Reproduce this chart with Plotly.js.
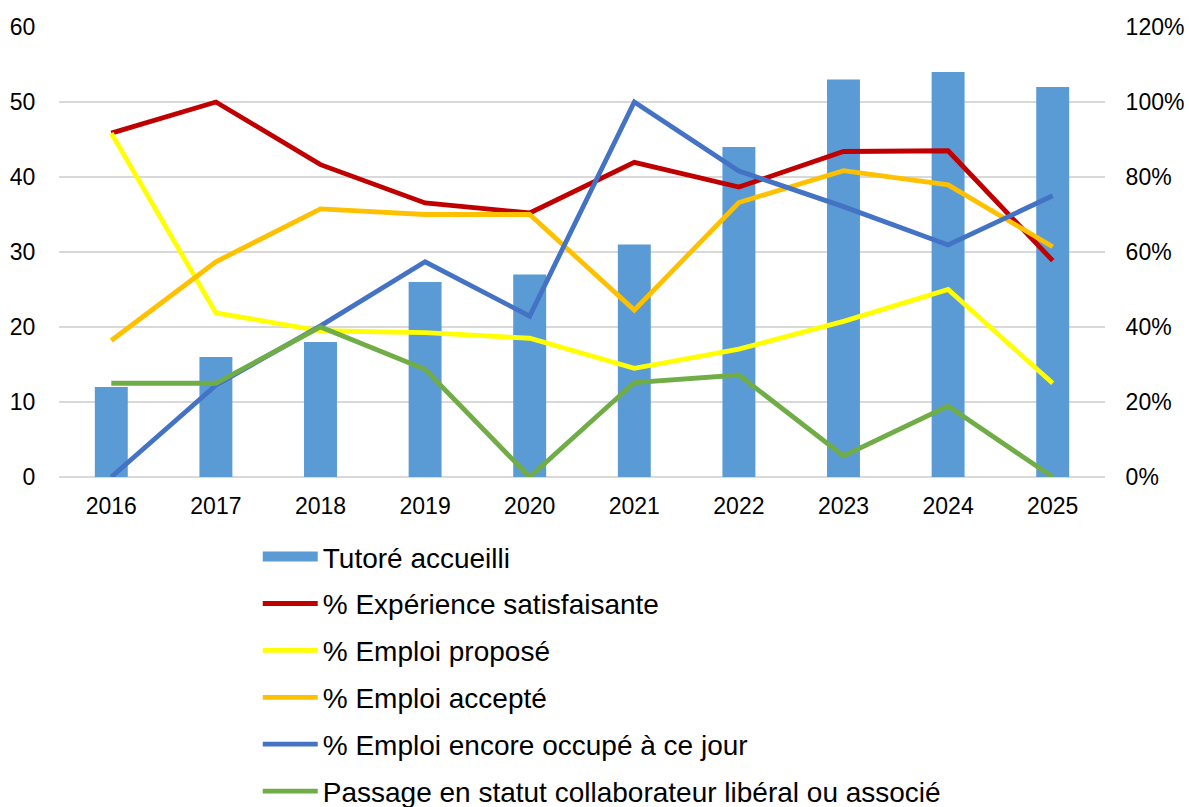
<!DOCTYPE html>
<html>
<head>
<meta charset="utf-8">
<script src="https://cdn.plot.ly/plotly-3.0.1.min.js"></script>
<style>html,body{margin:0;padding:0;background:#fff;}#chart{width:1189px;height:807px;}</style>
</head>
<body>
<div id="chart"></div>
<script>
const years = ['2016','2017','2018','2019','2020','2021','2022','2023','2024','2025'];
const tutores = [12,16,18,26,27,31,44,53,54,52];
const satisfaisante = [0.917,1.0,0.833,0.731,0.704,0.839,0.773,0.868,0.870,0.577];
const propose = [0.917,0.4375,0.39,0.385,0.370,0.290,0.341,0.415,0.50,0.25];
const accepte = [0.364,0.574,0.715,0.70,0.70,0.445,0.732,0.817,0.779,0.614];
const occupe = [0,0.245,0.403,0.574,0.429,1.0,0.816,0.721,0.619,0.75];
const passage = [0.25,0.25,0.40,0.287,0,0.252,0.272,0.056,0.189,0];

const names = ['Tutoré accueilli','% Expérience satisfaisante','% Emploi proposé','% Emploi accepté','% Emploi encore occupé à ce jour','Passage en statut collaborateur libéral ou associé'];
const lineSeries = [satisfaisante, propose, accepte, occupe, passage];
const lineColors = ['#C00000','#FFFF00','#FFC000','#4472C4','#70AD47'];
const barColor = '#5B9BD5';

const traces = [{
  type:'bar', x:years, y:tutores, name:names[0], legendgroup:'g0', showlegend:false,
  marker:{color:barColor}, yaxis:'y', hoverinfo:'skip'
}, {
  // legend-only key for the bars (wide rectangle like the original)
  type:'scatter', mode:'lines', x:[years[0]], y:[null], name:names[0], legendgroup:'g0',
  yaxis:'y', line:{color:barColor, width:14}, hoverinfo:'skip'
}];
lineSeries.forEach((s,i)=>{
  traces.push({
    type:'scatter', mode:'lines', x:years, y:s, name:names[i+1], legendgroup:'g'+(i+1),
    yaxis:'y2', line:{color:lineColors[i], width:4.8}, hoverinfo:'skip'
  });
});

const fam = '"Liberation Sans", Arial, sans-serif';
const tickFont = {size:23, family:fam, color:'#000'};
const layout = {
  width:1189, height:807,
  margin:{l:59, r:84, t:27, b:330, autoexpand:false},
  paper_bgcolor:'#fff', plot_bgcolor:'#fff',
  font:{family:fam, color:'#000'},
  showlegend:true,
  bargap:0.685,
  xaxis:{type:'category', showgrid:false, showline:false, zeroline:false,
    tickfont:tickFont, ticks:'outside', ticklen:8, tickcolor:'rgba(0,0,0,0)'},
  yaxis:{range:[0,60], dtick:10, tick0:0, showgrid:true, gridcolor:'#D9D9D9', gridwidth:1.3,
    zeroline:true, zerolinecolor:'#D9D9D9', zerolinewidth:1.3, showline:false,
    tickfont:tickFont, ticks:'outside', ticklen:18, tickcolor:'rgba(0,0,0,0)'},
  yaxis2:{range:[0,1.2], dtick:0.2, tick0:0, tickformat:'.0%', overlaying:'y', side:'right',
    showgrid:false, zeroline:false, showline:false,
    tickfont:tickFont, ticks:'outside', ticklen:15, tickcolor:'rgba(0,0,0,0)'},
  legend:{orientation:'v', x:0.19, xanchor:'left', y:-0.122, yanchor:'top',
    traceorder:'grouped', tracegroupgap:7.5, itemwidth:55,
    font:{size:28, family:fam, color:'#000'}, bgcolor:'rgba(0,0,0,0)'}
};

Plotly.newPlot('chart', traces, layout, {displayModeBar:false, staticPlot:true});
</script>
</body>
</html>
